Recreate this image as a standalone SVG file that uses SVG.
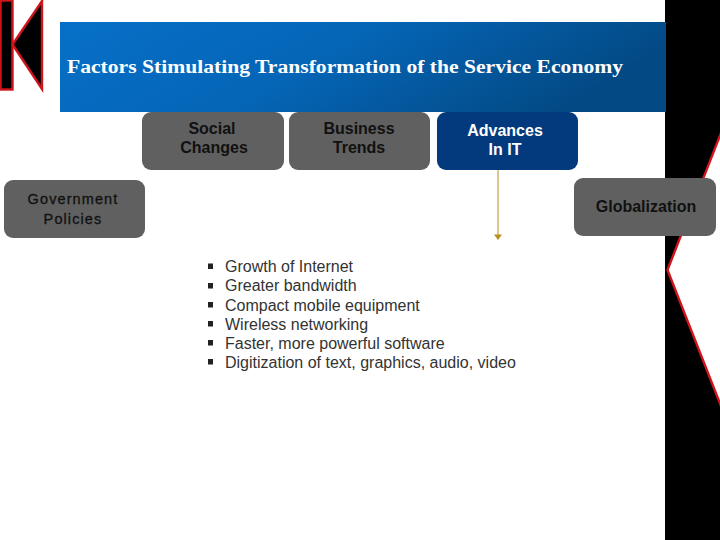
<svg xmlns="http://www.w3.org/2000/svg" width="720" height="540" viewBox="0 0 720 540">
<defs>
<linearGradient id="hdr" x1="0" y1="0" x2="1" y2="0.25"><stop offset="0" stop-color="#0670c8"/><stop offset="0.5" stop-color="#0565b6"/><stop offset="1" stop-color="#034a85"/></linearGradient>
<style>
.box{fill:#606060}
.t{font:bold 16px "Liberation Sans",Arial,sans-serif;fill:#111;text-anchor:middle}
.li{font:16px "Liberation Sans",Arial,sans-serif;fill:#333}
.b{fill:#222}
.red{fill:#000;stroke:#d0141c;stroke-width:2.400}
</style>
</defs>
<rect width="720" height="540" fill="#fff"/>
<g id="decor">
<rect x="665" y="0" width="55" height="540" fill="#000"/>
<polygon points="721,133 667.500,270 721,406" fill="#fff"/>
<polyline points="721,133 667.500,270 721,406" fill="none" stroke="#d0141c" stroke-width="2.400"/>
<rect x="0.500" y="0.500" width="12" height="89" class="red"/>
<polygon points="42,1 42,89 12.500,44.500" class="red"/>
</g>
<g id="header">
<rect x="60" y="22" width="606" height="90" fill="url(#hdr)"/>
<text x="67" y="73" font-family="Liberation Serif,Times New Roman,serif" font-weight="bold" font-size="18.500" fill="#fff" textLength="556" lengthAdjust="spacingAndGlyphs">Factors Stimulating Transformation of the Service Economy</text>
</g>
<g id="connectors">
<line x1="498" y1="170" x2="498" y2="236" stroke="#b8901f" stroke-width="1"/>
<path d="M494 234.500H502L498 240Z" fill="#b8901f"/>
</g>
<g id="social-changes">
<rect x="142" y="112" width="142" height="58" rx="9" class="box"/>
<text class="t" x="212" y="134">Social</text><text class="t" x="214" y="153">Changes</text>
</g>
<g id="business-trends">
<rect x="289" y="112" width="141" height="58" rx="9" class="box"/>
<text class="t" x="359" y="134">Business</text><text class="t" x="359" y="153">Trends</text>
</g>
<g id="advances-in-it">
<rect x="437" y="112" width="141" height="58" rx="9" fill="#033a7e"/>
<text class="t" x="505" y="136" style="fill:#fff">Advances</text><text class="t" x="505" y="155" style="fill:#fff">In IT</text>
</g>
<g id="government-policies">
<rect x="4" y="180" width="141" height="58" rx="9" class="box"/>
<text class="t" x="73" y="204" style="font-size:14.500px;font-weight:normal;letter-spacing:1.100px;stroke:#111;stroke-width:.3px">Government</text><text class="t" x="73" y="224" style="font-size:14.500px;font-weight:normal;letter-spacing:1.100px;stroke:#111;stroke-width:.3px">Policies</text>
</g>
<g id="globalization">
<rect x="574" y="178" width="142" height="58" rx="9" class="box"/>
<text class="t" x="646" y="212">Globalization</text>
</g>
<g id="list">
<rect x="208" y="263.500" width="5" height="5.500" class="b"/>
<rect x="208" y="283" width="5" height="5.500" class="b"/>
<rect x="208" y="302" width="5" height="5.500" class="b"/>
<rect x="208" y="321" width="5" height="5.500" class="b"/>
<rect x="208" y="340" width="5" height="5.500" class="b"/>
<rect x="208" y="359" width="5" height="5.500" class="b"/>
<text class="li" x="225" y="272">Growth of Internet</text>
<text class="li" x="225" y="291">Greater bandwidth</text>
<text class="li" x="225" y="311">Compact mobile equipment</text>
<text class="li" x="225" y="330">Wireless networking</text>
<text class="li" x="225" y="349">Faster, more powerful software</text>
<text class="li" x="225" y="368">Digitization of text, graphics, audio, video</text>
</g>
</svg>
